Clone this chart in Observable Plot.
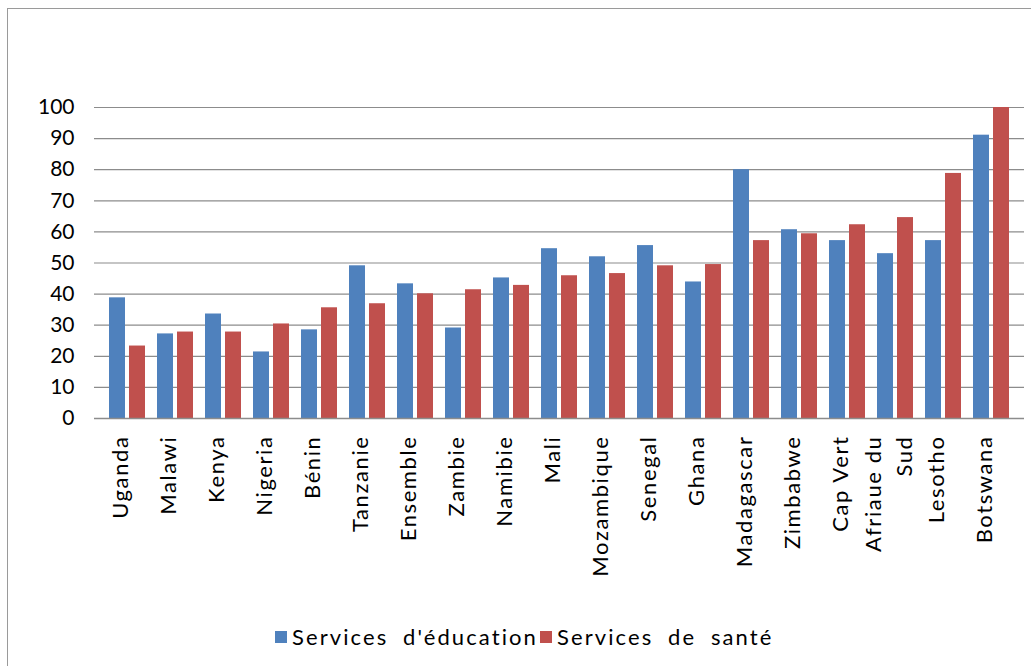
<!DOCTYPE html>
<html>
<head>
<meta charset="utf-8">
<script src="https://cdn.jsdelivr.net/npm/d3@7"></script>
<script src="https://cdn.jsdelivr.net/npm/@observablehq/plot@0.6"></script>
<style>
  html, body { margin: 0; padding: 0; background: #fff; }
  #wrap { position: relative; width: 1031px; height: 666px; overflow: hidden; font-family: Lato, "Open Sans", sans-serif; }
  #frame { position: absolute; left: 7px; top: 8px; width: 1100px; height: 700px; border-left: 1.5px solid #9a9a9a; border-top: 1.5px solid #9a9a9a; }
  #chart { position: absolute; left: 0; top: 0; }
  #chart g[aria-label="x-axis tick label"] text { letter-spacing: 1.6px; }
  #legend { position: absolute; left: 275px; top: 623px; display: flex; align-items: center; font-size: 22px; color: #000; letter-spacing: 2.1px; word-spacing: 7px; white-space: nowrap; }
  #legend .sw { display: inline-block; width: 12px; height: 12px; margin-right: 5px; }
  #legend .item { display: flex; align-items: center; margin-right: 2px; }
</style>
</head>
<body>
<div id="wrap">
  <div id="frame"></div>
  <div id="chart"></div>
  <div id="legend"></div>
</div>
<script>
// Countries in display order, and the two series (percent)
const countries = ["Uganda", "Malawi", "Kenya", "Nigeria", "Bénin", "Tanzanie", "Ensemble", "Zambie",
  "Namibie", "Mali", "Mozambique", "Senegal", "Ghana", "Madagascar", "Zimbabwe", "Cap Vert",
  "Afriaue du Sud", "Lesotho", "Botswana"];
const education = [38.8, 27.2, 33.6, 21.4, 28.5, 49.1, 43.3, 29.1, 45.2, 54.6, 52.0, 55.6, 43.9,
  80.0, 60.7, 57.2, 53.0, 57.2, 91.1];
const sante = [23.3, 27.8, 27.8, 30.4, 35.6, 36.9, 40.1, 41.4, 42.8, 45.9, 46.6, 49.1, 49.5,
  57.2, 59.4, 62.3, 64.6, 78.8, 100];
const seriesNames = ["Services d'éducation", "Services de santé"];
const seriesColors = ["#4F81BD", "#C0504D"];
const yTicks = [0, 10, 20, 30, 40, 50, 60, 70, 80, 90, 100];
// Labels that wrap onto two lines
const wrapped = {"Afriaue du Sud": "Afriaue du\nSud"};

const rows = countries.map((c, i) => ({country: c, education: education[i], sante: sante[i]}));

const chart = Plot.plot({
  width: 1031,
  height: 610,
  marginTop: 107,
  marginBottom: 192,
  marginLeft: 94,
  marginRight: 7,
  style: {fontFamily: "Lato, 'Open Sans', sans-serif", fontSize: "20px", color: "#000", background: "transparent"},
  x: {domain: countries, padding: 0, label: null},
  y: {domain: [0, 100], label: null},
  marks: [
    Plot.ruleY(yTicks, {stroke: "#8c8c8c", strokeWidth: 1.2, strokeOpacity: 1}),
    Plot.barY(rows, {x: "country", y: "education", fill: seriesColors[0], insetLeft: 6, insetRight: 26}),
    Plot.barY(rows, {x: "country", y: "sante", fill: seriesColors[1], insetLeft: 26, insetRight: 6}),
    Plot.ruleY([0], {stroke: "#8c8c8c", strokeWidth: 1.5}),
    Plot.axisY({ticks: yTicks, tickSize: 0, tickPadding: 20, fontSize: 21, label: null}),
    Plot.axisX({tickSize: 0, tickPadding: 17, tickRotate: -90, fontSize: 22, label: null, dx: -9,
      tickFormat: d => wrapped[d] ?? d, lineHeight: 1.4})
  ]
});
document.getElementById("chart").appendChild(chart);

const legend = document.getElementById("legend");
seriesNames.forEach((name, i) => {
  const item = document.createElement("span");
  item.className = "item";
  const sw = document.createElement("span");
  sw.className = "sw";
  sw.style.background = seriesColors[i];
  item.appendChild(sw);
  item.appendChild(document.createTextNode(name));
  legend.appendChild(item);
});
</script>
</body>
</html>
